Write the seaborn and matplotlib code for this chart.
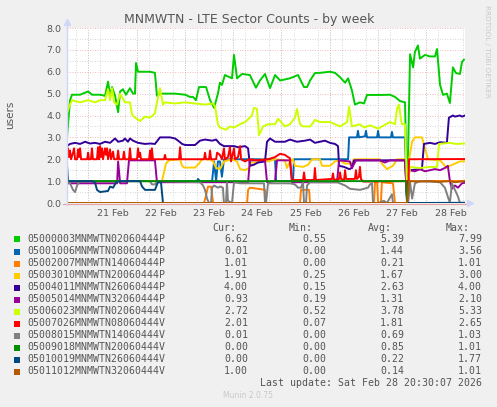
import pandas as pd
import matplotlib.pyplot as plt
import matplotlib.dates as mdates
import seaborn as sns
from matplotlib.patches import Rectangle
from matplotlib.lines import Line2D

# series names / colours (munin palette)
names = ['05000003MNMWTN02060444P', '05001006MNMWTN08060444P', '05002007MNMWTN14060444P',
         '05003010MNMWTN20060444P', '05004011MNMWTN26060444P', '05005014MNMWTN32060444P',
         '05006023MNMWTN02060444V', '05007026MNMWTN08060444V', '05008015MNMWTN14060444V',
         '05009018MNMWTN20060444V', '05010019MNMWTN26060444V', '05011012MNMWTN32060444V']
colors = ['#00CC00', '#0066B3', '#FF8000', '#FFCC00', '#330099', '#990099',
          '#CCFF00', '#FF0000', '#808080', '#008F00', '#00487D', '#B35A00']
cur = ['6.62', '0.01', '1.01', '1.91', '4.00', '0.93', '2.72', '2.01', '0.01', '0.00', '0.00', '1.00']
mins = ['0.55', '0.00', '0.00', '0.25', '0.15', '0.19', '0.52', '0.07', '0.00', '0.00', '0.00', '0.00']
avgs = ['5.39', '1.44', '0.21', '1.67', '2.63', '1.31', '3.78', '1.81', '0.69', '0.85', '0.22', '0.14']
maxs = ['7.99', '3.56', '1.01', '3.00', '4.00', '2.10', '5.33', '2.65', '1.03', '1.01', '1.77', '1.01']

# (hours since 20 Feb 00:00, users)
s_green = [(13.4,3.0),(14.9,4.7),(15.9,4.95),(19.9,4.95),(23.9,5.1),(25.8,4.95),(29.8,4.95),(32.3,4.9),
           (33.8,5.55),(34.8,4.9),(35.8,5.3),(37.3,4.9),(38.8,4.15),(39.8,5.1),(41.2,5.2),(42.7,4.95),
           (44.7,5.25),(46.2,5.0),(47.2,5.0),(47.7,6.4),(48.7,6.0),(54.7,6.0),(57.1,5.95),(58.1,4.9),
           (59.6,5.0),(67.1,5.0),(72.1,4.95),(74.5,4.85),(76.0,4.85),(77.5,4.7),(79.0,5.3),(82.5,5.3),
           (84.5,4.7),(86.5,4.35),(88.4,5.0),(89.4,5.5),(90.4,5.4),(91.9,5.85),(95.4,5.7),(96.4,6.77),
           (97.9,5.7),(100.4,5.9),(104.3,5.85),(107.3,5.27),(109.3,5.6),(111.8,5.9),(114.3,5.25),
           (116.8,5.85),(119.3,5.6),(124.2,5.7),(128.2,5.85),(131.2,5.3),(132.7,5.3),(134.2,5.6),
           (136.6,5.94),(139.1,5.95),(144.1,6.0),(146.6,5.95),(149.1,5.75),(151.6,5.5),(153.1,5.7),
           (155.0,5.15),(156.5,4.5),(159.0,4.6),(161.0,4.55),(162.5,4.94),(169.9,4.94),(173.9,4.95),
           (176.4,4.85),(178.9,4.66),(181.4,4.6),(182.4,0.0),(183.9,6.8),(185.4,6.2),(186.3,6.9),
           (187.8,7.2),(188.8,6.6),(191.3,6.77),(193.8,6.7),(196.3,6.7),(197.3,7.04),(198.8,5.4),
           (200.3,4.94),(202.2,5.0),(203.7,4.57),(205.2,6.2),(206.7,5.94),(208.7,5.9),(209.7,6.45),
           (210.7,6.55)]
s_blue = [(13.4,1.0),(78.0,1.0),(78.5,1.1),(79.5,1.0),(85.5,1.0),(86.5,1.9),(87.5,1.0),(88.4,1.9),
          (89.4,1.9),(90.4,1.2),(91.4,2.0),(116.8,2.0),(117.3,1.0),(125.7,1.0),(126.2,2.0),(153.1,2.0),
          (153.6,3.0),(157.5,3.0),(158.0,3.3),(158.5,3.0),(161.5,3.05),(162.0,3.3),(162.5,3.0),
          (167.5,3.0),(168.0,3.3),(168.5,3.0),(174.4,3.0),(174.9,3.25),(175.4,3.0),(181.4,3.0),
          (182.4,0.0),(211.2,0.01)]
s_orange = [(13.4,0.0),(81.5,0.0),(82.5,0.35),(83.5,0.75),(85.0,0.75),(86.0,0.0),(102.9,0.0),
            (103.4,0.6),(104.3,0.7),(108.3,0.65),(111.8,0.6),(112.3,0.0),(129.2,0.0),(129.7,0.6),
            (133.7,0.6),(134.2,0.0),(166.0,0.0),(166.5,1.0),(167.5,1.0),(168.0,0.0),(169.4,0.0),
            (169.9,0.95),(175.4,0.9),(176.4,0.0),(182.4,0.0),(183.9,1.0),(211.2,1.01)]
s_yellow = [(13.4,1.0),(60.6,1.0),(61.6,1.4),(62.6,1.8),(64.1,1.95),(69.6,2.0),(70.6,1.7),(71.6,1.62),
            (77.0,1.62),(79.0,1.8),(80.5,2.0),(84.0,2.0),(86.0,1.9),(87.5,1.6),(89.4,1.55),(91.4,1.9),
            (95.4,2.0),(97.9,1.9),(99.4,1.55),(101.9,1.5),(103.9,1.6),(104.8,1.85),(108.3,1.85),
            (110.3,2.0),(113.3,1.9),(116.8,2.0),(121.7,1.95),(122.7,1.6),(124.2,1.9),(125.7,2.0),
            (126.7,1.7),(130.7,1.65),(133.2,1.75),(135.2,2.0),(139.1,2.0),(140.1,1.7),(144.1,1.7),
            (146.6,1.9),(149.1,1.95),(151.6,1.8),(155.0,1.8),(156.0,2.0),(168.9,2.0),(169.9,1.8),
            (172.4,1.55),(175.4,1.7),(177.4,2.0),(181.4,2.0),(182.4,0.25),(183.4,2.0),(184.9,2.8),
            (186.3,3.0),(189.8,3.0),(191.3,2.5),(192.8,2.0),(198.8,1.95),(202.2,1.6),(203.7,1.7),
            (206.2,1.8),(208.7,1.9),(211.2,1.91)]
s_indigo = [(13.4,2.6),(14.9,2.7),(17.4,2.75),(19.9,2.7),(22.4,2.8),(24.8,2.72),(27.3,2.75),(29.8,2.7),
            (32.3,2.8),(34.8,2.75),(37.3,2.95),(38.8,2.8),(41.2,2.85),(42.2,2.95),(43.7,2.8),(44.7,2.95),
            (46.2,2.85),(48.7,2.75),(52.2,2.7),(54.7,2.72),(57.1,2.7),(59.6,3.0),(64.6,3.0),(67.1,2.95),
            (68.6,2.85),(70.6,2.7),(72.1,2.65),(77.0,2.65),(79.5,2.85),(82.0,2.9),(85.5,2.85),(87.5,2.9),
            (89.4,2.7),(91.4,2.6),(96.4,2.6),(98.4,2.55),(101.9,2.6),(103.4,2.5),(104.3,1.7),(106.3,1.75),
            (108.3,1.85),(111.8,1.9),(112.8,2.8),(114.3,2.95),(116.8,2.8),(121.7,2.8),(124.2,2.9),
            (127.7,2.8),(131.7,2.85),(134.2,2.9),(136.6,2.75),(139.1,2.8),(141.6,2.85),(144.1,2.75),
            (146.6,2.7),(148.1,2.6),(148.6,1.7),(151.1,1.65),(153.6,1.55),(155.0,1.6),(156.0,1.95),
            (181.4,1.95),(182.4,0.15),(183.4,1.5),(189.8,1.55),(190.8,2.7),(193.8,2.75),(196.3,2.7),
            (198.8,2.78),(202.2,2.75),(203.2,3.9),(205.2,4.0),(206.2,3.95),(208.7,4.0),(209.7,3.95),
            (211.2,4.0)]
s_purple = [(13.4,0.9),(38.3,0.9),(38.8,1.9),(39.8,0.9),(43.2,0.9),(44.2,1.95),(57.1,1.95),(58.1,0.95),
            (103.4,0.95),(104.3,1.95),(111.8,1.95),(112.8,0.95),(116.8,1.0),(117.8,1.95),(124.2,1.95),
            (125.2,0.95),(147.6,0.95),(148.6,1.95),(154.0,1.9),(155.0,1.6),(157.0,1.95),(168.9,1.95),
            (171.4,1.85),(173.9,1.95),(181.4,1.95),(182.4,0.2),(183.4,1.5),(186.3,1.45),(188.8,1.55),
            (191.3,1.45),(193.8,1.5),(196.3,1.55),(198.8,1.5),(201.2,1.6),(202.7,1.7),(203.7,1.0),
            (204.7,0.65),(206.2,0.8),(207.7,0.7),(209.7,0.9),(211.2,0.93)]
s_lime = [(13.4,4.1),(14.4,4.4),(15.9,4.7),(19.9,4.6),(23.9,4.7),(27.3,4.6),(29.8,4.7),(32.3,4.7),
          (33.8,5.2),(34.8,4.7),(35.8,5.25),(36.8,4.6),(38.3,4.5),(39.8,5.0),(42.2,4.6),(44.7,4.6),
          (45.7,4.05),(47.2,3.9),(49.7,3.75),(52.2,3.95),(54.7,3.9),(57.1,4.1),(58.1,4.6),(59.6,5.25),
          (61.1,4.5),(62.1,4.6),(67.1,4.55),(72.1,4.6),(77.0,4.55),(82.0,4.5),(86.0,4.55),(87.0,4.4),
          (88.4,3.6),(89.4,3.45),(92.4,3.35),(94.4,3.5),(96.4,3.45),(99.4,3.6),(101.9,3.7),(105.3,4.0),
          (106.3,4.35),(107.8,4.3),(108.3,3.7),(108.8,3.1),(110.8,3.5),(113.3,3.6),(116.8,3.6),
          (118.3,3.85),(121.7,3.5),(124.2,3.6),(126.7,3.9),(127.7,4.3),(129.2,3.6),(130.7,3.5),
          (134.2,3.5),(135.2,3.6),(136.6,3.8),(139.1,3.7),(144.1,3.7),(146.6,3.6),(149.1,3.5),
          (152.6,3.7),(153.6,4.4),(155.0,3.5),(159.0,3.6),(161.0,3.45),(164.0,3.55),(168.0,3.4),
          (169.9,3.5),(173.9,3.7),(176.4,3.6),(177.4,4.3),(178.4,4.5),(179.4,3.8),(179.9,3.6),
          (181.4,3.6),(182.4,0.55),(183.9,1.65),(188.8,1.6),(193.8,1.65),(197.3,1.65),(198.3,2.7),
          (203.7,2.75),(206.7,2.7),(211.2,2.72)]
s_red = [(13.4,2.0),(13.9,2.5),(14.4,2.1),(14.9,2.4),(15.4,2.0),(16.4,2.3),(16.9,2.5),(17.4,2.0),
         (18.4,2.0),(18.9,2.45),(19.4,2.1),(19.9,2.5),(20.4,2.0),(23.4,2.0),(23.9,2.3),(24.3,2.0),
         (25.3,2.0),(25.8,2.5),(26.3,2.0),(28.3,2.0),(28.8,2.55),(29.3,2.0),(29.8,2.6),(30.3,2.1),
         (30.8,2.5),(31.3,2.0),(32.3,2.5),(32.8,2.2),(33.3,2.5),(33.8,2.0),(34.8,2.45),(35.3,2.0),
         (36.3,2.35),(36.8,2.0),(38.3,2.0),(38.8,2.4),(39.3,2.0),(41.2,2.0),(41.7,2.35),(42.2,2.0),
         (44.2,2.0),(44.7,2.5),(45.2,2.0),(48.2,2.0),(48.7,2.5),(49.2,2.1),(49.7,2.3),(50.2,2.0),
         (54.2,2.0),(54.7,2.4),(55.1,2.0),(55.6,2.5),(56.1,2.0),(61.6,2.0),(62.1,2.2),(62.6,2.0),
         (69.1,2.0),(69.6,2.55),(70.1,2.0),(81.5,2.0),(82.0,2.3),(82.5,2.0),(84.0,2.0),(84.5,2.4),
         (85.0,2.0),(87.5,2.0),(88.0,2.3),(89.4,2.2),(90.4,2.0),(91.4,2.5),(91.9,2.0),(93.4,2.1),
         (94.4,2.55),(94.9,1.9),(96.4,2.5),(96.9,2.0),(98.4,2.1),(99.4,2.6),(99.9,2.0),(101.9,1.9),
         (103.9,2.0),(108.3,1.95),(113.3,2.0),(116.8,2.1),(119.3,2.25),(121.7,2.2),(123.2,2.1),
         (124.2,2.05),(125.2,1.05),(130.7,1.05),(131.2,1.4),(131.7,1.05),(136.2,1.05),(136.6,1.6),
         (137.1,1.05),(145.1,1.1),(145.6,1.35),(146.1,1.05),(148.6,1.1),(149.1,1.4),(149.6,1.1),
         (151.1,1.05),(151.6,1.5),(152.1,1.1),(156.5,1.1),(157.0,1.5),(157.5,1.1),(158.5,1.2),
         (159.0,1.65),(159.5,1.1),(160.5,0.98),(182.4,1.0),(182.9,0.07),(183.4,2.0),(211.2,2.01)]
s_gray = [(13.4,1.0),(14.9,0.9),(16.4,0.6),(17.4,0.5),(18.4,0.8),(19.4,0.95),(20.4,1.0),(54.7,1.0),
          (55.6,0.85),(57.1,0.85),(58.6,1.0),(79.5,0.95),(81.0,0.8),(82.0,0.6),(83.0,0.2),(84.0,0.0),
          (85.0,0.0),(85.5,0.7),(86.5,0.8),(88.4,0.7),(89.4,0.75),(90.9,0.7),(91.4,0.0),(92.4,0.0),
          (92.9,0.95),(93.4,0.1),(95.4,0.0),(96.4,0.95),(99.4,0.9),(103.4,0.9),(111.3,0.9),(111.8,0.0),
          (112.3,0.0),(113.3,0.9),(116.8,0.9),(121.7,0.9),(124.2,0.9),(126.7,0.85),(128.2,0.7),
          (129.7,0.7),(130.7,0.95),(131.2,0.0),(132.2,0.0),(132.7,0.8),(134.2,0.95),(147.6,0.95),
          (151.6,0.8),(154.0,0.65),(159.0,0.6),(163.0,0.7),(164.0,0.85),(165.0,0.9),(165.5,0.0),
          (168.0,0.0),(170.9,0.1),(172.4,0.0),(174.9,0.4),(175.4,0.0),(182.9,0.0),(183.9,0.95),
          (184.9,0.2),(186.3,0.9),(188.8,1.0),(198.8,0.95),(201.2,0.7),(203.7,0.0),(204.7,0.9),
          (206.2,0.6),(207.7,0.3),(208.7,0.0),(211.2,0.01)]
s_dkgreen = [(13.4,1.0),(181.9,1.0),(182.4,0.0),(211.2,0.0)]
s_navy = [(13.4,1.75),(13.9,1.0),(25.8,1.0),(27.3,0.95),(28.3,0.6),(29.8,0.5),(33.8,0.55),(34.8,0.75),
          (36.3,0.7),(37.8,0.95),(39.8,1.0),(49.7,1.0),(50.7,0.75),(52.2,0.6),(57.1,0.6),(58.6,0.95),
          (60.1,0.95),(61.1,0.0),(211.2,0.0)]
s_brown = [(13.4,0.0),(182.4,0.0),(183.4,1.0),(188.8,0.98),(193.8,1.0),(198.8,0.97),(203.7,1.0),
           (206.2,0.95),(211.2,1.0)]

series = [s_green, s_blue, s_orange, s_yellow, s_indigo, s_purple,
          s_lime, s_red, s_gray, s_dkgreen, s_navy, s_brown]

t0 = pd.Timestamp('2026-02-20')
frames = []
for name, pts in zip(names, series):
    d = pd.DataFrame(pts, columns=['h', 'users'])
    d['time'] = t0 + pd.to_timedelta(d['h'], unit='h')
    d['sensor'] = name
    frames.append(d)
df = pd.concat(frames, ignore_index=True)

W, H = 497, 407
fig = plt.figure(figsize=(W / 100, H / 100), dpi=100, facecolor='#F0F0F0')
ax = fig.add_axes([67 / W, 1 - 203 / H, 398 / W, 175 / H])
ax.set_facecolor('white')

sns.lineplot(data=df, x='time', y='users', hue='sensor', palette=dict(zip(names, colors)),
             estimator=None, sort=False, legend=False, linewidth=1.4, ax=ax)

xmin, xmax = t0 + pd.Timedelta(hours=13.4), t0 + pd.Timedelta(hours=211.2)
ax.set_xlim(xmin, xmax)
ax.set_ylim(0, 8)

# grid: grey dotted every 6h / 0.5, pink dotted at midnights / integers
dots = (0, (1, 2))
ax.xaxis.set_major_locator(mdates.HourLocator(byhour=[12]))
ax.xaxis.set_major_formatter(mdates.DateFormatter('%d %b'))
ax.xaxis.set_minor_locator(mdates.HourLocator(byhour=[0, 6, 12, 18]))
ax.set_yticks([0, 1, 2, 3, 4, 5, 6, 7, 8])
ax.set_yticklabels(['0.0', '1.0', '2.0', '3.0', '4.0', '5.0', '6.0', '7.0', '8.0'])
ax.set_yticks([0.5, 1.5, 2.5, 3.5, 4.5, 5.5, 6.5, 7.5], minor=True)
ax.grid(which='minor', color='#C8C8C8', linestyle=dots, linewidth=0.6)
ax.grid(which='major', axis='x', visible=False)
ax.grid(which='major', axis='y', color='#EFA5A7', linestyle=dots, linewidth=0.6)
for day in range(21, 29):
    ax.axvline(pd.Timestamp(f'2026-02-{day}'), color='#EFA5A7', linestyle=dots, linewidth=0.6, zorder=0.5)
ax.set_axisbelow(True)

ax.tick_params(which='both', length=0, labelsize=6.8, labelcolor='#555555')
ax.tick_params(axis='y', pad=4)
ax.tick_params(axis='x', pad=4)
for s in ['top', 'right', 'bottom', 'left']:
    ax.spines[s].set_visible(False)
ax.set_xlabel('')
ax.set_ylabel('')

# axis lines with arrows
axc = '#CFD6F8'
fig.add_artist(Line2D([67 / W, 67 / W], [1 - 205 / H, 1 - 24 / H], color=axc, lw=1))
fig.add_artist(Line2D([63 / W, 468 / W], [1 - 203.5 / H, 1 - 203.5 / H], color='#E9A0A0', lw=0.8, zorder=0))
fig.add_artist(Line2D([67 / W], [1 - 22 / H], marker='^', color=axc, ms=4))
fig.add_artist(Line2D([470 / W], [1 - 203 / H], marker='>', color=axc, ms=4))

def ftext(x, y, s, **kw):
    fig.text(x / W, 1 - y / H, s, **kw)

ftext(249, 19, 'MNMWTN - LTE Sector Counts - by week', ha='center', va='center',
      fontsize=9, color='#555555')
ftext(487, 5, 'RRDTOOL / TOBI OETIKER', rotation=270, ha='center', va='top',
      fontsize=5.2, color='#C8C8C8')
ftext(10, 115, 'users', rotation=90, ha='center', va='center', fontsize=7.5, color='#555555')

mono = dict(family='DejaVu Sans Mono', fontsize=7.1, color='#555555', va='center')
ftext(236, 228, 'Cur:', ha='right', **mono)
ftext(313, 228, 'Min:', ha='right', **mono)
ftext(392, 228, 'Avg:', ha='right', **mono)
ftext(470, 228, 'Max:', ha='right', **mono)
for i, name in enumerate(names):
    y = 239.5 + 12 * i
    fig.add_artist(Rectangle((14 / W, 1 - (y + 3) / H), 6 / W, 6 / H, color=colors[i], lw=0))
    ftext(27, y, name, ha='left', **mono)
    ftext(248, y, cur[i], ha='right', **mono)
    ftext(326, y, mins[i], ha='right', **mono)
    ftext(404, y, avgs[i], ha='right', **mono)
    ftext(482, y, maxs[i], ha='right', **mono)
ftext(482, 383, 'Last update: Sat Feb 28 20:30:07 2026', ha='right', **mono)
ftext(248, 396, 'Munin 2.0.75', ha='center', va='center', fontsize=5.5, color='#C8C8C8')

fig.savefig('out.png', dpi=100, facecolor=fig.get_facecolor())
